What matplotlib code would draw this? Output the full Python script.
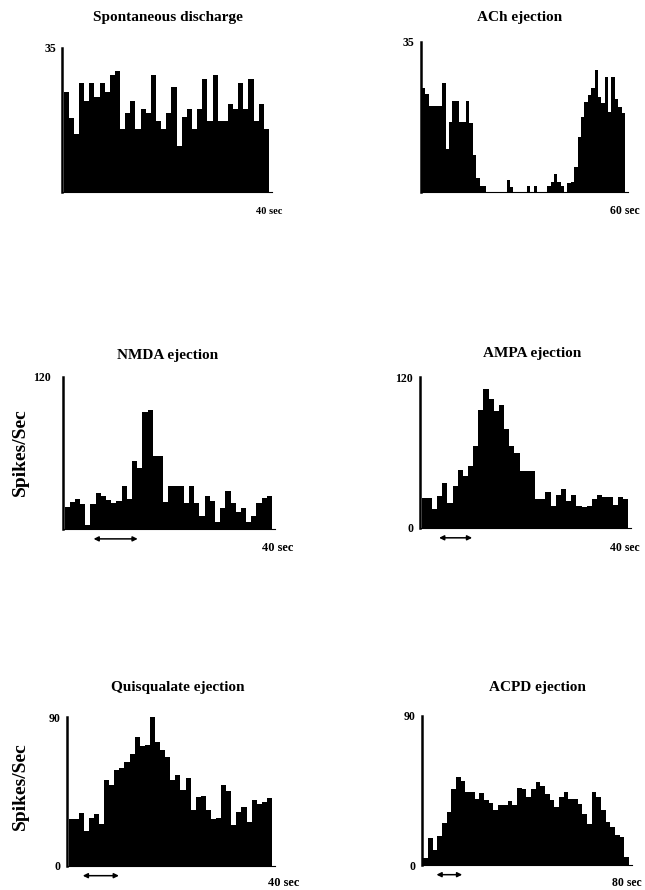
import matplotlib
matplotlib.use("Agg")
import matplotlib.pyplot as plt

plt.rcParams['font.family'] = ['Liberation Serif', 'DejaVu Serif']
plt.rcParams['font.weight'] = 'bold'

W, H = 645, 890

# spikes per 1 s bin
spontaneous = [24.4, 18.1, 14.1, 26.4, 22.2, 26.4, 23.2, 26.4, 24.4, 28.5,
               29.5, 15.2, 19.3, 22.2, 15.2, 20.2, 19.3, 28.5, 17.3, 15.2,
               19.3, 25.4, 11.1, 18.3, 20.2, 15.2, 20.2, 27.4, 17.3, 28.5,
               17.3, 17.3, 21.3, 20.2, 26.4, 20.2, 27.4, 17.3, 21.3, 15.2]
ach = [24.2, 22.9, 20.1, 20.1, 20.1, 20.1, 25.5, 10.0, 16.4, 21.3,
       21.3, 16.4, 16.4, 21.3, 16.2, 8.6, 3.2, 1.4, 1.4, 0,
       0, 0, 0, 0, 0, 2.8, 1.2, 0, 0, 0,
       0, 1.4, 0, 1.4, 0, 0, 0, 1.4, 2.4, 4.2,
       2.4, 1.4, 0, 2.0, 2.4, 5.9, 12.9, 17.6, 21.1, 22.6,
       24.2, 28.5, 22.2, 20.7, 26.9, 18.7, 26.9, 21.8, 19.9, 18.4]
nmda = [17.7, 21.6, 23.7, 19.8, 3.2, 19.8, 28.2, 26.4, 22.9, 20.8,
        22.2, 33.8, 23.5, 54.0, 48.5, 92.0, 94.0, 57.8, 57.8, 21.6,
        33.8, 33.8, 33.8, 20.3, 33.8, 20.3, 10.3, 26.4, 22.2, 5.8,
        16.4, 30.3, 20.3, 13.7, 16.4, 5.8, 10.3, 20.3, 24.3, 26.4]
ampa = [23.8, 23.8, 15.1, 25.2, 35.8, 19.9, 33.1, 45.8, 41.1, 49.0,
        65.4, 93.5, 110.5, 102.8, 92.7, 98.0, 78.7, 65.4, 59.6, 45.6,
        45.6, 45.6, 23.0, 23.0, 28.3, 17.7, 26.5, 31.0, 21.2, 26.5,
        17.7, 16.4, 17.2, 23.0, 26.5, 24.6, 24.6, 18.0, 24.6, 23.0]
quisqualate = [28.2, 28.2, 31.9, 21.2, 29.2, 31.3, 25.2, 52.0, 49.0, 57.7,
               59.0, 63.1, 67.7, 78.2, 72.6, 73.2, 89.9, 75.2, 70.2, 66.1,
               52.0, 55.0, 46.0, 53.2, 33.9, 41.5, 42.3, 33.9, 28.2, 28.8,
               49.0, 45.6, 24.8, 32.9, 35.9, 26.8, 39.9, 37.5, 38.9, 41.0]
acpd = [4.0, 16.5, 9.0, 17.5, 25.6, 32.2, 45.7, 53.3, 50.9, 44.3,
        44.3, 39.6, 43.3, 39.2, 37.2, 33.2, 36.2, 36.2, 38.8, 36.2,
        46.3, 46.0, 41.0, 46.0, 50.0, 48.0, 43.0, 39.0, 35.0, 41.0,
        44.0, 40.0, 40.0, 37.0, 31.0, 25.0, 44.0, 41.0, 33.0, 26.0,
        23.0, 18.0, 17.0, 5.0]

titles = ["Spontaneous discharge", "ACh ejection", "NMDA ejection",
          "AMPA ejection", "Quisqualate ejection", "ACPD ejection"]
series = [spontaneous, ach, nmda, ampa, quisqualate, acpd]
y_tops = [35, 35, 120, 120, 90, 90]
show_zero = [False, False, False, True, True, True]
durations = ["40 sec", "60 sec", "40 sec", "40 sec", "40 sec", "80 sec"]
# ejection period (in bins) marked by the double arrow
arrows = [None, None, (5.6, 14.1), (3.4, 9.8), (2.8, 9.9), (2.8, 8.3)]

# panel frames in pixels: left spine x, right x, top y, baseline y
frames = [(62, 272, 48, 192), (421, 628, 42, 192),
          (63, 275, 377, 529), (420, 631, 377, 528),
          (67, 275, 717, 866), (422, 632, 716, 865)]
title_pos = [(168, 17), (520, 17), (168, 355), (532, 354), (178, 688), (537, 688)]
sec_pos = [(269, 211), (625, 211), (278, 548), (625, 548), (284, 883), (627, 883)]
sec_size = [7.5, 8.5, 9, 8.5, 9, 8.5]
tick_pad = [4, 5, 9, 5, 5, 5]

fig = plt.figure(figsize=(W / 100, H / 100), dpi=100)

for k in range(6):
    x0, x1, yt, yb = frames[k]
    ax = fig.add_axes([x0 / W, 1 - yb / H, (x1 - x0) / W, (yb - yt) / H])
    vals = series[k]
    n = len(vals)
    ax.bar(range(n), vals, width=1.0, align='edge', color='black', linewidth=0)
    # bars fill the frame up to a small margin on the right
    span = n * (x1 - x0) / (x1 - x0 - 3)
    ax.set_xlim(-0.3, span)
    ax.set_ylim(0, y_tops[k])
    for s in ['top', 'right']:
        ax.spines[s].set_visible(False)
    ax.spines['left'].set_linewidth(1.8)
    ax.spines['bottom'].set_linewidth(0.8)
    ax.set_xticks([])
    if show_zero[k]:
        ax.set_yticks([0, y_tops[k]], ['0', str(y_tops[k])])
    else:
        ax.set_yticks([y_tops[k]], [str(y_tops[k])])
    ax.tick_params(axis='y', length=0, pad=tick_pad[k], labelsize=8.5)
    for lab in ax.get_yticklabels():
        lab.set_fontweight('bold')
    if arrows[k] is not None:
        a0, a1 = arrows[k]
        ax.annotate('', xy=(a1, -0.065), xytext=(a0, -0.065),
                    xycoords=ax.get_xaxis_transform(), annotation_clip=False,
                    arrowprops=dict(arrowstyle='<|-|>', color='black', lw=1.1,
                                    mutation_scale=7, shrinkA=0, shrinkB=0))
    tx, ty = title_pos[k]
    fig.text(tx / W, 1 - ty / H, titles[k], ha='center', va='center',
             fontsize=11, fontweight='bold')
    sx, sy = sec_pos[k]
    fig.text(sx / W, 1 - sy / H, durations[k], ha='center', va='center',
             fontsize=sec_size[k], fontweight='bold')

fig.text(20 / W, 1 - 452 / H, 'Spikes/Sec', rotation=90, ha='center',
         va='center', fontsize=14, fontweight='bold')
fig.text(20 / W, 1 - 786 / H, 'Spikes/Sec', rotation=90, ha='center',
         va='center', fontsize=14, fontweight='bold')

fig.savefig('out.png', dpi=100)
